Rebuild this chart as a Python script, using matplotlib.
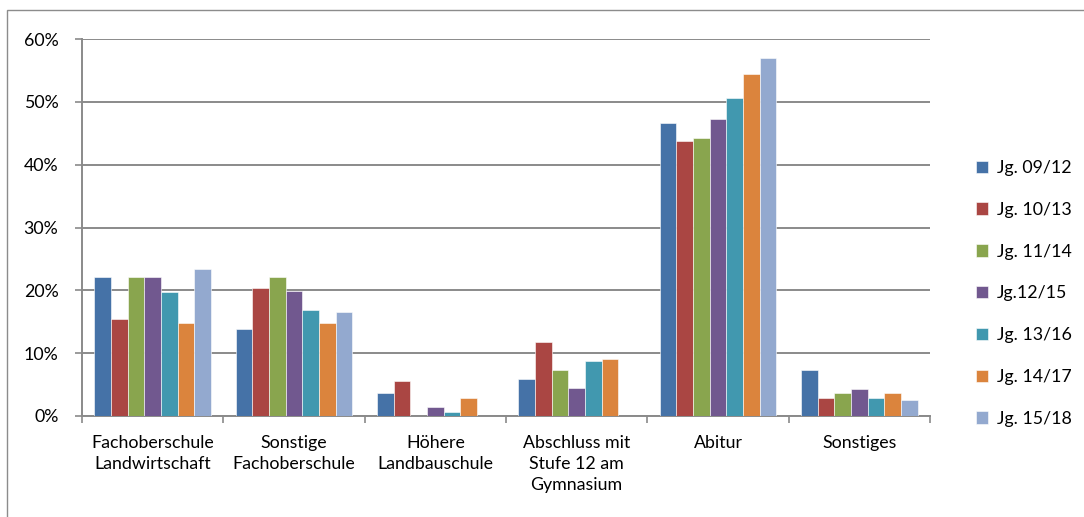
import numpy as np
import matplotlib.pyplot as plt
from matplotlib.patches import Rectangle

plt.rcParams['font.family'] = ['Lato', 'DejaVu Sans']

categories = ["Fachoberschule\nLandwirtschaft", "Sonstige\nFachoberschule", "Höhere\nLandbauschule",
              "Abschluss mit\nStufe 12 am\nGymnasium", "Abitur", "Sonstiges"]
series_names = ["Jg. 09/12", "Jg. 10/13", "Jg. 11/14", "Jg.12/15", "Jg. 13/16", "Jg. 14/17", "Jg. 15/18"]

# shares in percent per category
jg_09_12 = [22.1, 13.9, 3.7, 5.9, 46.6, 7.3]
jg_10_13 = [15.5, 20.3, 5.5, 11.7, 43.7, 2.9]
jg_11_14 = [22.1, 22.1, 0.0, 7.4, 44.3, 3.6]
jg_12_15 = [22.1, 19.9, 1.4, 4.4, 47.3, 4.3]
jg_13_16 = [19.8, 16.8, 0.6, 8.8, 50.6, 2.8]
jg_14_17 = [14.8, 14.8, 2.9, 9.0, 54.4, 3.6]
jg_15_18 = [23.4, 16.6, 0.0, 0.0, 56.9, 2.5]

series = [jg_09_12, jg_10_13, jg_11_14, jg_12_15, jg_13_16, jg_14_17, jg_15_18]
colors = ["#4572A7", "#AA4643", "#89A54E", "#71588F", "#4198AF", "#DB843D", "#93A9CF"]

fig = plt.figure(figsize=(10.84, 5.17), dpi=100)
fig.patches.append(Rectangle((7 / 1084, -0.05), 1.2, (507 / 517) + 0.05, transform=fig.transFigure,
                             fill=False, edgecolor="#8c8c8c", linewidth=1.0))
ax = fig.add_axes([82 / 1084, 101 / 517, 848 / 1084, 377 / 517])

x = np.arange(len(categories))
width = 0.118
for i, (vals, name, c) in enumerate(zip(series, series_names, colors)):
    offset = (i - 3) * width
    ax.bar(x + offset, vals, width, color=c, label=name, edgecolor="white", linewidth=0.4, zorder=3)

ax.set_xlim(-0.5, len(categories) - 0.5)
ax.set_ylim(0, 60)
ax.set_yticks(range(0, 61, 10))
ax.set_yticklabels([f"{v}%" for v in range(0, 61, 10)], fontsize=12.8)
ax.yaxis.grid(True, color="#8a8a8a", linewidth=1.4, zorder=0)
ax.set_axisbelow(True)

# category labels between boundary ticks
ax.set_xticks(np.arange(len(categories) + 1) - 0.5)
ax.set_xticklabels([])
ax.set_xticks(x, minor=True)
ax.set_xticklabels(categories, minor=True, fontsize=12.8, linespacing=1.35, va="top")
ax.tick_params(axis="x", which="minor", length=0, pad=14)
ax.tick_params(axis="x", which="major", length=5, color="#8a8a8a", width=1.2)
ax.tick_params(axis="y", length=5, color="#8a8a8a", width=1.2, pad=12)

for s in ["top", "right"]:
    ax.spines[s].set_visible(False)
for s in ["left", "bottom"]:
    ax.spines[s].set_color("#8a8a8a")
    ax.spines[s].set_linewidth(1.4)

ax.legend(loc="center left", bbox_to_anchor=(1.035, 0.325), frameon=False, fontsize=12.8,
          handlelength=0.7, handleheight=0.7, labelspacing=1.45, handletextpad=0.5)

fig.savefig("out.png", dpi=100)
